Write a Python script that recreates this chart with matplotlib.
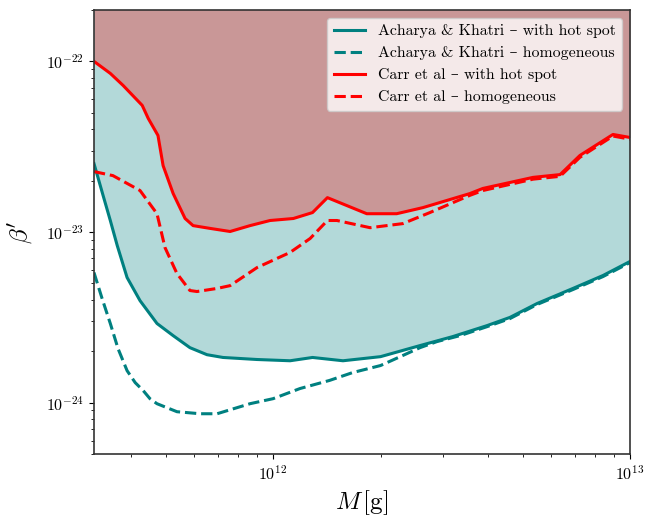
import matplotlib
matplotlib.use("Agg")
import matplotlib.pyplot as plt
from matplotlib.ticker import NullFormatter

# Acharya & Khatri - with hot spot
ak_hot_m = [3.15e11, 3.34e11, 3.50e11, 3.66e11, 3.90e11, 4.24e11, 4.73e11, 5.25e11,
            5.85e11, 6.53e11, 7.24e11, 9.02e11, 1.116e12, 1.29e12, 1.57e12, 2.0e12,
            2.58e12, 3.19e12, 3.98e12, 4.61e12, 5.49e12, 6.92e12, 8.40e12, 1e13]
ak_hot_b = [2.52e-23, 1.64e-23, 1.168e-23, 8.33e-24, 5.41e-24, 3.96e-24, 2.91e-24, 2.47e-24,
            2.10e-24, 1.91e-24, 1.84e-24, 1.79e-24, 1.76e-24, 1.84e-24, 1.76e-24, 1.86e-24,
            2.16e-24, 2.44e-24, 2.83e-24, 3.16e-24, 3.81e-24, 4.67e-24, 5.56e-24, 6.72e-24]

# Acharya & Khatri - homogeneous
ak_hom_m = [3.15e11, 3.32e11, 3.50e11, 3.68e11, 3.90e11, 4.11e11, 4.33e11, 4.52e11,
            4.73e11, 5.38e11, 6.25e11, 6.97e11, 8.62e11, 1e12, 1.19e12, 1.44e12,
            1.67e12, 2.0e12, 2.31e12, 2.58e12, 2.88e12, 3.34e12, 3.98e12, 4.61e12,
            5.49e12, 6.92e12, 8.40e12, 1e13]
ak_hom_b = [5.79e-24, 4.07e-24, 2.91e-24, 2.07e-24, 1.54e-24, 1.31e-24, 1.175e-24, 1.055e-24,
            9.86e-25, 8.85e-25, 8.61e-25, 8.61e-25, 9.86e-25, 1.055e-24, 1.21e-24, 1.35e-24,
            1.50e-24, 1.65e-24, 1.89e-24, 2.10e-24, 2.28e-24, 2.47e-24, 2.79e-24, 3.11e-24,
            3.76e-24, 4.60e-24, 5.48e-24, 6.62e-24]

# Carr et al - with hot spot
carr_hot_m = [3.15e11, 3.50e11, 3.80e11, 4.30e11, 4.47e11, 4.76e11, 4.92e11, 5.25e11,
              5.67e11, 5.97e11, 6.66e11, 7.58e11, 8.62e11, 9.81e11, 1.14e12, 1.29e12,
              1.42e12, 1.83e12, 2.22e12, 2.63e12, 3.56e12, 3.87e12, 5.35e12, 6.37e12,
              7.24e12, 8.96e12, 1e13]
carr_hot_b = [1.0e-22, 8.5e-23, 7.23e-23, 5.52e-23, 4.63e-23, 3.68e-23, 2.45e-23, 1.68e-23,
              1.20e-23, 1.09e-23, 1.05e-23, 1.007e-23, 1.09e-23, 1.168e-23, 1.20e-23, 1.30e-23,
              1.59e-23, 1.28e-23, 1.28e-23, 1.39e-23, 1.68e-23, 1.80e-23, 2.09e-23, 2.17e-23,
              2.81e-23, 3.73e-23, 3.58e-23]

# Carr et al - homogeneous
carr_hom_m = [3.15e11, 3.56e11, 4.24e11, 4.73e11, 4.98e11, 5.38e11, 5.85e11, 6.12e11,
              6.97e11, 7.58e11, 9.02e11, 1.116e12, 1.27e12, 1.42e12, 1.51e12, 1.87e12,
              2.31e12, 2.75e12, 3.56e12, 3.87e12, 5.35e12, 6.37e12, 7.24e12, 8.96e12, 1e13]
carr_hom_b = [2.26e-23, 2.14e-23, 1.75e-23, 1.28e-23, 8.11e-24, 5.71e-24, 4.54e-24, 4.48e-24,
              4.67e-24, 4.85e-24, 6.19e-24, 7.59e-24, 9.16e-24, 1.168e-23, 1.168e-23, 1.06e-23,
              1.12e-23, 1.30e-23, 1.64e-23, 1.75e-23, 2.04e-23, 2.12e-23, 2.74e-23, 3.65e-23, 3.50e-23]

XMIN, XMAX = 3.15e11, 1e13
YMIN, YMAX = 5e-25, 2e-22

plt.rcParams['font.family'] = ['cmr10', 'DejaVu Serif']
plt.rcParams['mathtext.fontset'] = 'cm'
plt.rcParams['axes.formatter.use_mathtext'] = True

fig = plt.figure(figsize=(6.59, 5.15), dpi=100)
ax = fig.add_axes([0.1426, 0.1184, 0.8134, 0.8622])

TEAL = '#008080'
ax.fill_between(ak_hot_m, ak_hot_b, YMAX * 10, color='#b3d9d9', lw=0)
ax.fill_between(carr_hot_m, carr_hot_b, YMAX * 10, color='#c99797', lw=0)

ax.plot(ak_hot_m, ak_hot_b, color=TEAL, lw=2.2, label='Acharya & Khatri \u2013 with hot spot')
ax.plot(ak_hom_m, ak_hom_b, color=TEAL, lw=2.2, ls='--', label='Acharya & Khatri \u2013 homogeneous')
ax.plot(carr_hot_m, carr_hot_b, color='red', lw=2.2, label='Carr et al \u2013 with hot spot')
ax.plot(carr_hom_m, carr_hom_b, color='red', lw=2.2, ls='--', label='Carr et al \u2013 homogeneous')

ax.set_xscale('log')
ax.set_yscale('log')
ax.set_xlim(XMIN, XMAX)
ax.set_ylim(YMIN, YMAX)
ax.xaxis.set_minor_formatter(NullFormatter())
ax.yaxis.set_minor_formatter(NullFormatter())

ax.set_xlabel(r'$M\,[\mathrm{g}]$', fontsize=18)
ax.set_ylabel(r"$\beta'$", fontsize=18, labelpad=8)
ax.tick_params(labelsize=11.5)
for s in ax.spines.values():
    s.set_color('#333333')
    s.set_linewidth(1.2)

ax.legend(loc='upper right', fontsize=11.4, framealpha=0.8)

fig.savefig('out.png', dpi=100)
